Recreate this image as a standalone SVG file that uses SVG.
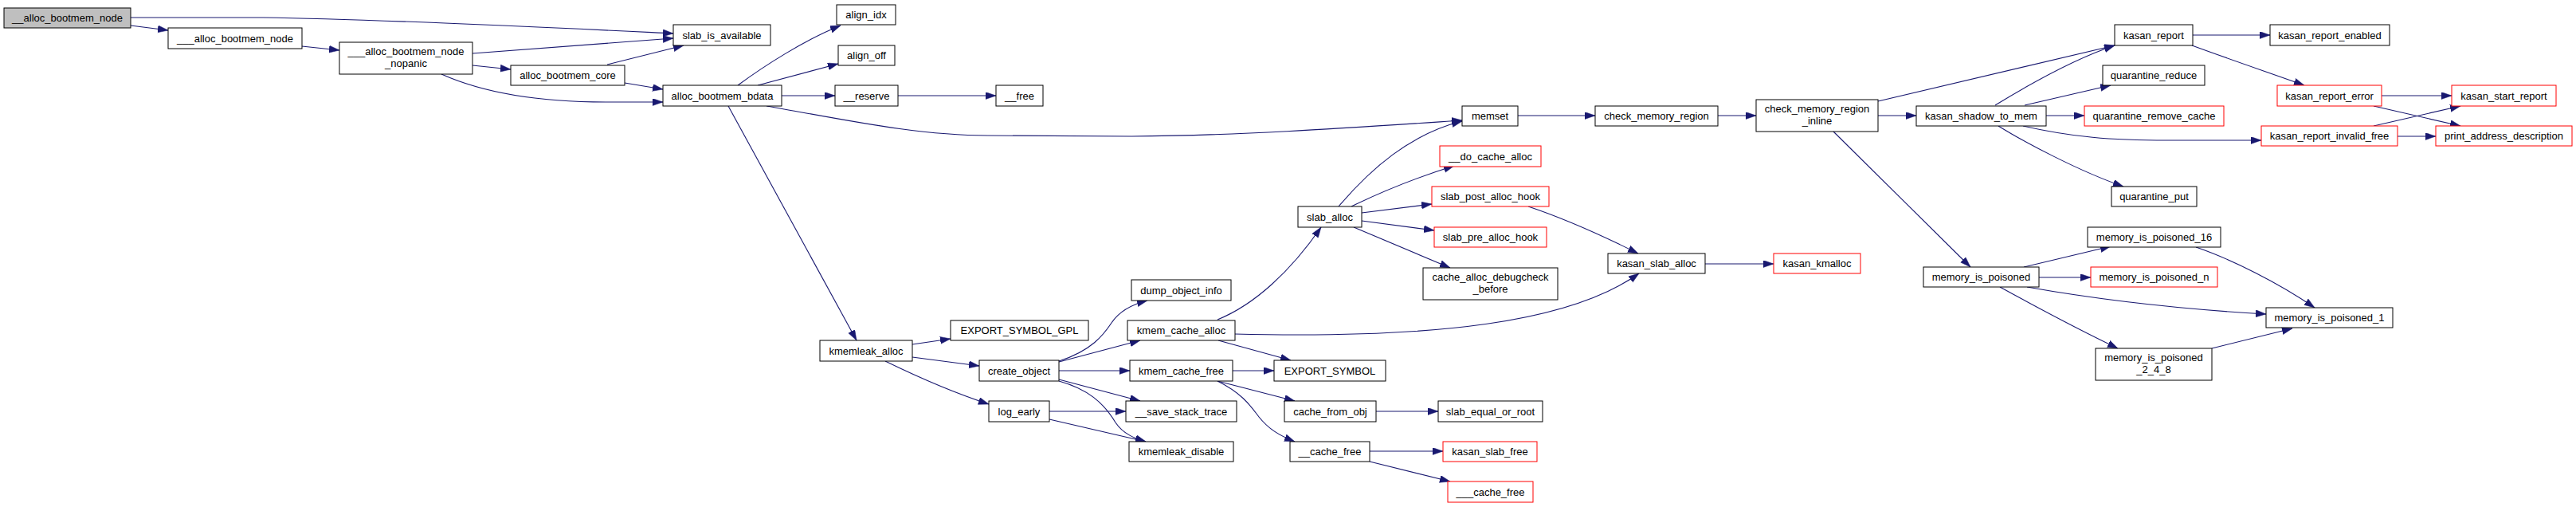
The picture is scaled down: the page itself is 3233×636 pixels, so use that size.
<svg xmlns="http://www.w3.org/2000/svg" width="3233" height="636" viewBox="0 0 3233 636">
<style>
.n rect{fill:#fff;stroke:#000;stroke-width:1}
.n.root rect{fill:#bfbfbf}
.n.red rect{stroke:#ff0000}
.n text{font-family:"Liberation Sans",Arial,sans-serif;font-size:13px;fill:#000;text-anchor:middle}
#edges path{fill:none;stroke:#191970;stroke-width:1.1;marker-end:url(#ah)}
</style>
<defs>
<marker id="ah" markerUnits="userSpaceOnUse" markerWidth="14" markerHeight="10" refX="13" refY="4.5" orient="auto">
<path d="M0,0 L13,4.5 L0,9 z" fill="#191970" stroke="#191970" stroke-width="0.5"/>
</marker>
</defs>
<rect width="3233" height="636" fill="#fff"/>
<g id="edges">
<path d="M164,22 L330,22 C480,24 700,35 845,42"/>
<path d="M164,32 L211,38"/>
<path d="M379,58 L426,63"/>
<path d="M593,67 L845,48"/>
<path d="M593,82 L641,87"/>
<path d="M554,93 C610,118 680,128 760,128 L832,128"/>
<path d="M762,81 L858,57"/>
<path d="M784,104 L832,112"/>
<path d="M926,107 C960,82 1010,50 1055,32"/>
<path d="M951,107 L1052,80"/>
<path d="M981,120 L1048,120"/>
<path d="M1127,120 L1250,120"/>
<path d="M962,133 C1060,150 1150,170 1240,170 L1420,171 C1560,170 1700,160 1835,151"/>
<path d="M914,133 L1075,427"/>
<path d="M1905,145 L2002,145"/>
<path d="M2156,145 L2204,145"/>
<path d="M2357,127 L2654,57"/>
<path d="M2357,145 L2405,145"/>
<path d="M2301,165 L2473,335"/>
<path d="M2504,132 C2540,110 2600,75 2654,57"/>
<path d="M2541,132 L2649,107"/>
<path d="M2568,145 L2616,145"/>
<path d="M2539,158 C2600,172 2650,176 2720,176 L2838,176"/>
<path d="M2508,158 C2540,178 2610,215 2665,234"/>
<path d="M2752,44 L2849,44"/>
<path d="M2751,57 C2800,75 2850,92 2892,107"/>
<path d="M2989,120 L3077,120"/>
<path d="M2979,133 L3088,158"/>
<path d="M2979,158 L3088,133"/>
<path d="M3009,171 L3057,171"/>
<path d="M2540,335 L2649,309"/>
<path d="M2559,348 L2624,348"/>
<path d="M2544,360 C2640,377 2740,388 2844,394"/>
<path d="M2510,360 C2550,382 2610,414 2658,437"/>
<path d="M2756,310 C2800,325 2860,355 2905,386"/>
<path d="M2776,437 L2877,412"/>
<path d="M1680,259 C1720,212 1770,168 1835,152"/>
<path d="M1696,259 C1735,240 1780,222 1825,208"/>
<path d="M1709,267 L1797,256"/>
<path d="M1709,277 L1800,289"/>
<path d="M1699,285 L1820,336"/>
<path d="M1918,259 C1960,273 2010,295 2056,318"/>
<path d="M2140,331 L2226,331"/>
<path d="M1145,432 L1193,425"/>
<path d="M1145,448 L1229,459"/>
<path d="M1111,453 C1150,472 1195,492 1241,507"/>
<path d="M1329,453 C1370,440 1385,420 1395,405 C1405,390 1420,382 1440,377"/>
<path d="M1329,454 L1431,427"/>
<path d="M1329,465 L1418,465"/>
<path d="M1329,476 L1431,503"/>
<path d="M1329,478 C1365,488 1385,505 1400,530 C1410,545 1425,550 1438,554"/>
<path d="M1317,516 L1413,516"/>
<path d="M1317,526 L1438,554"/>
<path d="M1528,401 C1575,382 1620,340 1658,285"/>
<path d="M1550,419 C1800,425 1970,405 2057,343"/>
<path d="M1529,427 L1620,452"/>
<path d="M1547,465 L1599,465"/>
<path d="M1528,478 L1625,503"/>
<path d="M1528,478 C1560,494 1570,510 1580,523 C1592,538 1605,546 1625,554"/>
<path d="M1727,516 L1805,516"/>
<path d="M1719,566 L1811,566"/>
<path d="M1719,579 L1820,604"/>
</g>
<g id="n0" class="n root"><rect x="5" y="10" width="159" height="25"/><text x="84.5" y="27">__alloc_bootmem_node</text></g>
<g id="n1" class="n"><rect x="211" y="35" width="168" height="26"/><text x="295" y="52.5">___alloc_bootmem_node</text></g>
<g id="n2" class="n"><rect x="426" y="53" width="167" height="40"/><text x="509.5" y="69">___alloc_bootmem_node</text><text x="509.5" y="84">_nopanic</text></g>
<g id="n3" class="n"><rect x="845" y="31" width="122" height="26"/><text x="906" y="48.5">slab_is_available</text></g>
<g id="n4" class="n"><rect x="641" y="82" width="143" height="25"/><text x="712.5" y="99">alloc_bootmem_core</text></g>
<g id="n5" class="n"><rect x="832" y="107" width="149" height="26"/><text x="906.5" y="124.5">alloc_bootmem_bdata</text></g>
<g id="n6" class="n"><rect x="1050" y="6" width="74" height="25"/><text x="1087" y="23">align_idx</text></g>
<g id="n7" class="n"><rect x="1052" y="57" width="71" height="25"/><text x="1087.5" y="74">align_off</text></g>
<g id="n8" class="n"><rect x="1048" y="107" width="79" height="26"/><text x="1087.5" y="124.5">__reserve</text></g>
<g id="n9" class="n"><rect x="1250" y="107" width="59" height="26"/><text x="1279.5" y="124.5">__free</text></g>
<g id="n10" class="n"><rect x="1835" y="133" width="70" height="25"/><text x="1870" y="150">memset</text></g>
<g id="n11" class="n"><rect x="2002" y="133" width="154" height="25"/><text x="2079" y="150">check_memory_region</text></g>
<g id="n12" class="n"><rect x="2204" y="125" width="153" height="40"/><text x="2280.5" y="141">check_memory_region</text><text x="2280.5" y="156">_inline</text></g>
<g id="n13" class="n"><rect x="2405" y="133" width="163" height="25"/><text x="2486.5" y="150">kasan_shadow_to_mem</text></g>
<g id="n14" class="n"><rect x="2654" y="31" width="98" height="26"/><text x="2703" y="48.5">kasan_report</text></g>
<g id="n15" class="n"><rect x="2639" y="82" width="128" height="25"/><text x="2703" y="99">quarantine_reduce</text></g>
<g id="n16" class="n red"><rect x="2616" y="133" width="175" height="25"/><text x="2703.5" y="150">quarantine_remove_cache</text></g>
<g id="n17" class="n"><rect x="2650" y="234" width="107" height="25"/><text x="2703.5" y="251">quarantine_put</text></g>
<g id="n18" class="n"><rect x="2620" y="285" width="167" height="25"/><text x="2703.5" y="302">memory_is_poisoned_16</text></g>
<g id="n19" class="n"><rect x="2414" y="335" width="145" height="25"/><text x="2486.5" y="352">memory_is_poisoned</text></g>
<g id="n20" class="n red"><rect x="2624" y="335" width="159" height="25"/><text x="2703.5" y="352">memory_is_poisoned_n</text></g>
<g id="n21" class="n"><rect x="2630" y="437" width="146" height="40"/><text x="2703" y="453">memory_is_poisoned</text><text x="2703" y="468">_2_4_8</text></g>
<g id="n22" class="n"><rect x="2844" y="386" width="159" height="25"/><text x="2923.5" y="403">memory_is_poisoned_1</text></g>
<g id="n23" class="n red"><rect x="2226" y="318" width="109" height="25"/><text x="2280.5" y="335">kasan_kmalloc</text></g>
<g id="n24" class="n"><rect x="2849" y="31" width="150" height="26"/><text x="2924" y="48.5">kasan_report_enabled</text></g>
<g id="n25" class="n red"><rect x="2858" y="107" width="131" height="26"/><text x="2923.5" y="124.5">kasan_report_error</text></g>
<g id="n26" class="n red"><rect x="3077" y="107" width="131" height="26"/><text x="3142.5" y="124.5">kasan_start_report</text></g>
<g id="n27" class="n red"><rect x="2838" y="158" width="171" height="25"/><text x="2923.5" y="175">kasan_report_invalid_free</text></g>
<g id="n28" class="n red"><rect x="3057" y="158" width="171" height="25"/><text x="3142.5" y="175">print_address_description</text></g>
<g id="n29" class="n red"><rect x="1807" y="183" width="127" height="26"/><text x="1870.5" y="200.5">__do_cache_alloc</text></g>
<g id="n30" class="n red"><rect x="1797" y="234" width="147" height="25"/><text x="1870.5" y="251">slab_post_alloc_hook</text></g>
<g id="n31" class="n red"><rect x="1800" y="285" width="141" height="25"/><text x="1870.5" y="302">slab_pre_alloc_hook</text></g>
<g id="n32" class="n"><rect x="1629" y="259" width="80" height="26"/><text x="1669" y="276.5">slab_alloc</text></g>
<g id="n33" class="n"><rect x="2018" y="318" width="122" height="25"/><text x="2079" y="335">kasan_slab_alloc</text></g>
<g id="n34" class="n"><rect x="1786" y="336" width="169" height="40"/><text x="1870.5" y="352">cache_alloc_debugcheck</text><text x="1870.5" y="367">_before</text></g>
<g id="n35" class="n"><rect x="1029" y="427" width="116" height="26"/><text x="1087" y="444.5">kmemleak_alloc</text></g>
<g id="n36" class="n"><rect x="1193" y="402" width="173" height="25"/><text x="1279.5" y="419">EXPORT_SYMBOL_GPL</text></g>
<g id="n37" class="n"><rect x="1229" y="452" width="100" height="26"/><text x="1279" y="469.5">create_object</text></g>
<g id="n38" class="n"><rect x="1241" y="503" width="76" height="26"/><text x="1279" y="520.5">log_early</text></g>
<g id="n39" class="n"><rect x="1420" y="351" width="125" height="26"/><text x="1482.5" y="368.5">dump_object_info</text></g>
<g id="n40" class="n"><rect x="1415" y="402" width="135" height="25"/><text x="1482.5" y="419">kmem_cache_alloc</text></g>
<g id="n41" class="n"><rect x="1418" y="452" width="129" height="26"/><text x="1482.5" y="469.5">kmem_cache_free</text></g>
<g id="n42" class="n"><rect x="1413" y="503" width="139" height="26"/><text x="1482.5" y="520.5">__save_stack_trace</text></g>
<g id="n43" class="n"><rect x="1417" y="554" width="131" height="25"/><text x="1482.5" y="571">kmemleak_disable</text></g>
<g id="n44" class="n"><rect x="1599" y="452" width="140" height="26"/><text x="1669" y="469.5">EXPORT_SYMBOL</text></g>
<g id="n45" class="n"><rect x="1612" y="503" width="115" height="26"/><text x="1669.5" y="520.5">cache_from_obj</text></g>
<g id="n46" class="n"><rect x="1619" y="554" width="100" height="25"/><text x="1669" y="571">__cache_free</text></g>
<g id="n47" class="n"><rect x="1805" y="503" width="131" height="26"/><text x="1870.5" y="520.5">slab_equal_or_root</text></g>
<g id="n48" class="n red"><rect x="1811" y="554" width="118" height="25"/><text x="1870" y="571">kasan_slab_free</text></g>
<g id="n49" class="n red"><rect x="1817" y="604" width="107" height="26"/><text x="1870.5" y="621.5">___cache_free</text></g>
</svg>
